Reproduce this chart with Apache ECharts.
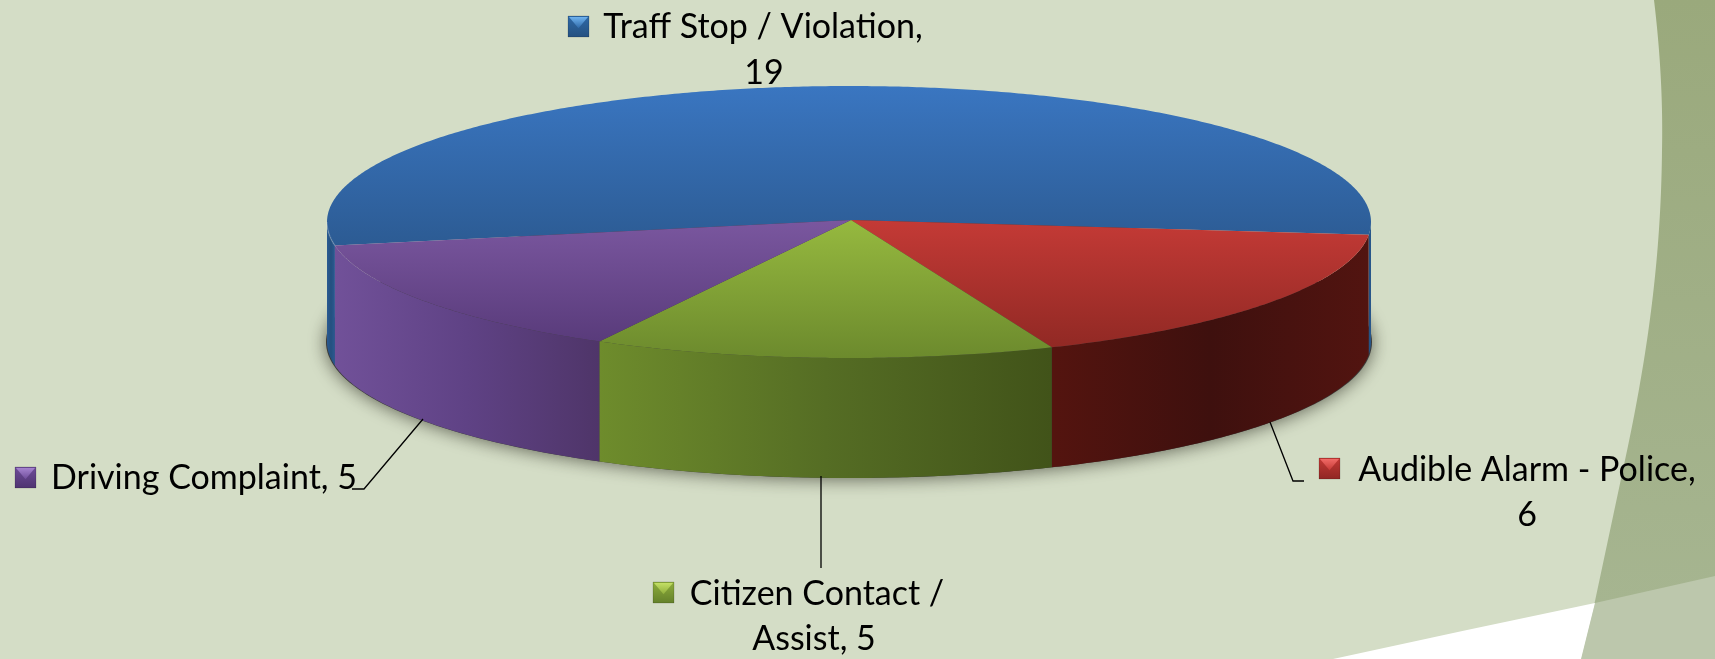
<!DOCTYPE html>
<html>
<head>
<meta charset="utf-8">
<style>html,body{margin:0;padding:0;background:#d4ddc6}#c{width:1715px;height:659px}</style>
<script src="https://cdn.jsdelivr.net/npm/echarts@6/dist/echarts.min.js"></script>
</head>
<body>
<div id="c"></div>
<script>
// ---- data ----
const categories = ['Traff Stop / Violation', 'Audible Alarm - Police', 'Citizen Contact / Assist', 'Driving Complaint'];
const values = [19, 6, 5, 5];
const labelLines = [
  ['Traff Stop / Violation,', '19'],
  ['Audible Alarm - Police,', '6'],
  ['Citizen Contact /', 'Assist, 5'],
  ['Driving Complaint, 5']
];

// ---- layout and style (separate from the data) ----
const CX = 849, CY = 222, RX = 522, RY = 136, DEPTH = 120, START = 170, APEX_Y = 220;
const FONT = 'Lato';
const FONT_SIZE = 34;
const faceColors = [
  ['#3a76c1', '#2c5b93'], ['#c43a36', '#912924'], ['#96b93f', '#6c8a2d'], ['#7a579f', '#593b7b']
];
const wallColors = [
  ['#2a5a92', '#24507f', '#2a5a92'], ['#54140f', '#3e100e', '#521410'], ['#6e8c2c', '#556d24', '#415319'], ['#715199', '#5f4285', '#4f3569']
];
const keyColors = [
  ['#6fb2ee', '#2f6aa8', '#24507f'], ['#f06a66', '#c53a36', '#8f2623'], ['#c3df65', '#8fae3c', '#63802a'], ['#a583cf', '#6f4d9a', '#4e3370']
];
// text anchors are line centres
const labelLayout = [
  { key: [568, 16], first: [763, 27], second: [764, 73], lines: null },
  { key: [1319, 458], first: [1527, 470], second: [1527, 515], lines: [[1270, 422], [1293, 481], [1304, 481]] },
  { key: [653, 582], first: [817, 594], second: [814, 639], lines: [[821, 476], [821, 568]] },
  { key: [15, 467], first: [204, 478], second: null, lines: [[423, 419], [364, 489], [352, 489]] }
];

const total = values.reduce((a, b) => a + b, 0);
function range(i) {
  let s = START;
  for (let k = 0; k < i; k++) s += values[k] / total * 360;
  return [s, s + values[i] / total * 360];
}
function pt(deg, dy) {
  const t = deg * Math.PI / 180;
  return [CX + RX * Math.cos(t), CY + RY * Math.sin(t) + (dy || 0)];
}
function arc(a, b, dy) {
  const n = Math.max(2, Math.ceil(Math.abs(b - a) * 2)), p = [];
  for (let j = 0; j <= n; j++) p.push(pt(a + (b - a) * j / n, dy));
  return p;
}
function vGrad(c) {
  return { type: 'linear', x: 0, y: 0, x2: 0, y2: 1, colorStops: c.map((col, i) => ({ offset: i / (c.length - 1), color: col })) };
}
function hGrad(c) {
  return { type: 'linear', x: 0, y: 0, x2: 1, y2: 0, colorStops: c.map((col, i) => ({ offset: i / (c.length - 1), color: col })) };
}
// smooth outline of the page decoration
function bez(p0, p1, p2, p3) {
  const out = [];
  for (let j = 0; j <= 40; j++) {
    const t = j / 40, u = 1 - t;
    out.push([
      u * u * u * p0[0] + 3 * u * u * t * p1[0] + 3 * u * t * t * p2[0] + t * t * t * p3[0],
      u * u * u * p0[1] + 3 * u * u * t * p1[1] + 3 * u * t * t * p2[1] + t * t * t * p3[1]
    ]);
  }
  return out;
}
const crescentEdge = bez([1654, 0], [1660, 50], [1663, 100], [1662, 150])
  .concat(bez([1662, 150], [1661, 250], [1650, 340], [1628, 446]))
  .concat([[1595, 601], [1581, 659]]);

function renderWalls(params, api) {
  const i = params.dataIndex;
  const [a, b] = range(i);
  const kids = [];
  [[0, 180], [360, 540]].forEach(([lo, hi]) => {
    const s = Math.max(a, lo), e = Math.min(b, hi);
    if (e > s) {
      kids.push({
        type: 'polygon',
        shape: { points: arc(s, e, 0).concat(arc(e, s, DEPTH)) },
        style: { fill: hGrad(wallColors[i]) }
      });
    }
  });
  return { type: 'group', children: kids };
}
function renderFaces(params, api) {
  const i = params.dataIndex;
  const [a, b] = range(i);
  const kids = [{
    type: 'polygon',
    shape: { points: [[CX + 2, APEX_Y]].concat(arc(a, b, 0)) },
    style: { fill: vGrad(faceColors[i]) }
  }];
  const s = Math.max(a, 0), e = Math.min(b, 180);
  if (e > s && a < 180) {
    kids.push({
      type: 'polyline',
      shape: { points: arc(s, e, 0) },
      style: { fill: null, stroke: 'rgba(255,255,255,0.18)', lineWidth: 1.5 }
    });
  }
  return { type: 'group', children: kids };
}
function renderLabels(params, api) {
  const i = params.dataIndex, L = labelLayout[i], S = 21, kids = [];
  const [kx, ky] = L.key;
  kids.push({ type: 'rect', shape: { x: kx, y: ky, width: S, height: S },
    style: { fill: vGrad([keyColors[i][1], keyColors[i][2]]), stroke: 'rgba(0,0,0,0.15)', lineWidth: 1 } });
  kids.push({ type: 'polygon', shape: { points: [[kx + 1, ky + 1], [kx + S - 1, ky + 1], [kx + S / 2, ky + S * 0.58]] },
    style: { fill: vGrad([keyColors[i][0], keyColors[i][1]]) } });
  const lines = labelLines[i];
  kids.push({ type: 'text', style: { text: lines[0], x: L.first[0], y: L.first[1], align: 'center', verticalAlign: 'middle',
    fill: '#000', font: FONT_SIZE + 'px ' + FONT } });
  if (lines[1]) {
    kids.push({ type: 'text', style: { text: lines[1], x: L.second[0], y: L.second[1], align: 'center', verticalAlign: 'middle',
      fill: '#000', font: FONT_SIZE + 'px ' + FONT } });
  }
  if (L.lines) {
    kids.push({ type: 'polyline', shape: { points: L.lines }, style: { fill: null, stroke: '#000', lineWidth: 1.3 } });
  }
  return { type: 'group', children: kids };
}

const data = values.map((v, i) => ({ name: categories[i], value: [v] }));
const chart = echarts.init(document.getElementById('c'), null, { renderer: 'canvas', width: 1715, height: 659 });
chart.setOption({
  animation: false,
  backgroundColor: '#d4ddc6',
  tooltip: { show: false },
  graphic: [
    { type: 'polygon', z: 0, silent: true,
      shape: { points: crescentEdge.concat([[1715, 659], [1715, 0]]) },
      style: { fill: vGrad(['#9aa97c', '#a7b692']) } },
    { type: 'polygon', z: 1, silent: true,
      shape: { points: [[1595, 603], [1715, 576], [1715, 659], [1581, 659]] },
      style: { fill: '#bcc7ac' } },
    { type: 'polygon', z: 1, silent: true,
      shape: { points: [[1333, 659], [1467, 630], [1595, 603], [1581, 659]] },
      style: { fill: '#ffffff' } },
    { type: 'ellipse', z: 2, silent: true,
      shape: { cx: CX, cy: CY + DEPTH, rx: RX + 1, ry: RY },
      style: { fill: '#3a3a3a', shadowBlur: 18, shadowColor: 'rgba(30,30,20,0.65)', shadowOffsetY: 1 } }
  ],
  series: [
    { type: 'custom', coordinateSystem: 'none', z: 3, silent: true, data, renderItem: renderWalls },
    { type: 'custom', coordinateSystem: 'none', z: 4, silent: true, data, renderItem: renderFaces },
    { type: 'custom', coordinateSystem: 'none', z: 5, silent: true, data, renderItem: renderLabels }
  ]
});
</script>
</body>
</html>
